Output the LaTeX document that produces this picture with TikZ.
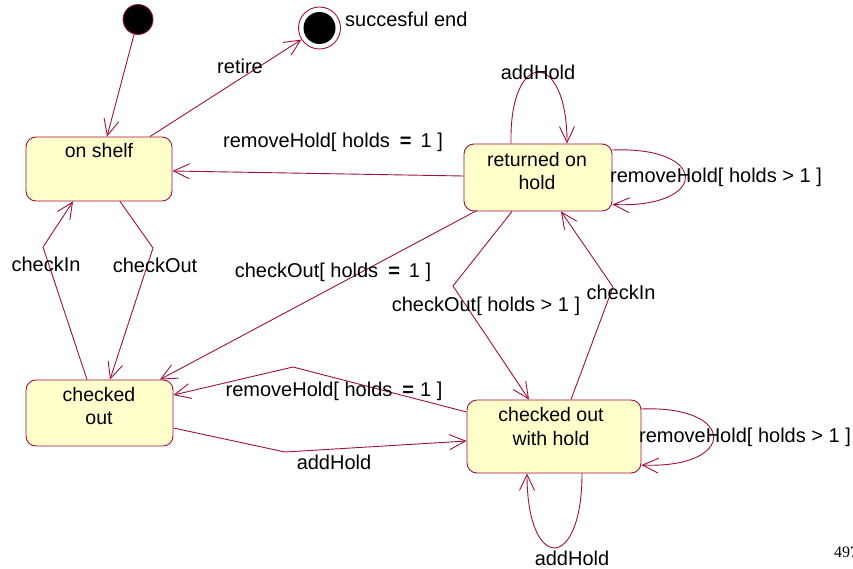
\documentclass[tikz,border=0pt]{standalone}
\usepackage{fontspec}
\setmainfont{Liberation Sans}
\newfontfamily\pagenofont{Liberation Serif}
\usetikzlibrary{arrows.meta,calc}

\definecolor{umlline}{HTML}{A0103F}
\definecolor{umlfill}{HTML}{FFFFCC}

\tikzset{
  state/.style={draw=umlline, fill=umlfill, line width=0.9pt, rounded corners=10pt,
                minimum width=#1, inner sep=0pt},
  statetext/.style={font=\fontsize{19.5}{23.5}\selectfont, align=center, inner sep=0pt},
  lbl/.style={font=\fontsize{20}{23}\selectfont, inner sep=0pt},
  trans/.style={draw=umlline, line width=0.9pt,
                -{Straight Barb[length=16pt,width=15pt,line width=0.9pt]}},
  startdot/.style={circle, draw=umlline, fill=black, line width=0.8pt, minimum size=30pt, inner sep=0pt},
}

\begin{document}
\begin{tikzpicture}[x=1pt,y=-1pt]
\clip (0,0) rectangle (853,569);
\fill[white] (0,0) rectangle (853,569);

% states
\node[startdot] (init) at (138,19.5) {};
\node[circle, draw=umlline, line width=0.9pt, minimum size=42pt, inner sep=0pt] (fin) at (319.5,28) {};
\node[circle, fill=black, minimum size=32pt, inner sep=0pt] (findot) at (fin.center) {};
\node[lbl, anchor=west] (finT) at (345,19) {succesful end};

\node[state=146pt, minimum height=64pt] (shelf) at (99,169) {};
\node[statetext] (shelfT) at (99,151) {on shelf};

\node[state=148pt, minimum height=67pt] (ret) at (538,177.5) {};
\node[statetext] (retT) at (537,171) {returned on\\hold};

\node[state=147pt, minimum height=66pt] (co) at (99.5,413) {};
\node[statetext] (coT) at (99,406) {checked\\out};

\node[state=174pt, minimum height=73pt] (cowh) at (554,436.5) {};
\node[statetext] (cowhT) at (551,426.5) {checked out\\with hold};

% bend points
\coordinate (b6) at (43,247);
\coordinate (b10) at (153,248);
\coordinate (b7) at (453,286);
\coordinate (b8) at (613,287);
\coordinate (b11) at (293,367);
\coordinate (b12) at (285,452);

% transitions
\draw[trans] (init) -- ($(shelf.north)+(8,0)$);
\draw[trans] ($(shelf.north)+(51,0)$) -- (fin);
\draw[trans] ($(ret.west)+(0,-1.5)$) -- ($(shelf.east)+(0,2)$);

\draw[trans] ($(ret.north)+(-27,0)$) .. controls +(-2,-95) and +(0,-95) .. ($(ret.north)+(29,0)$);
\draw[trans] ($(ret.east)+(0,-27.5)$) .. controls +(97,-4) and +(97,4) .. ($(ret.east)+(0,27)$);

\draw[trans] ($(ret.south)+(-61,-1)$) -- ($(co.north)+(60.5,0)$);
\draw[trans] ($(ret.south)+(-26,0)$) -- (b7) -- ($(cowh.north)+(-25,0)$);
\draw[trans] ($(cowh.north)+(17,0)$) -- (b8) -- ($(ret.south)+(23,0)$);

\draw[trans] ($(co.north)+(-12.5,0)$) -- (b6) -- ($(shelf.south)+(-26,0)$);
\draw[trans] ($(shelf.south)+(21,0)$) -- (b10) -- ($(co.north)+(10.5,0)$);

\draw[trans] ($(cowh.west)+(0,-24.5)$) -- (b11) -- ($(co.east)+(0,-18)$);
\draw[trans] ($(co.east)+(0,15)$) -- (b12) -- ($(cowh.west)+(0,4.5)$);

\draw[trans] ($(cowh.east)+(0,-27.5)$) .. controls +(96,-4) and +(96,4) .. ($(cowh.east)+(0,28.5)$);
\draw[trans] ($(cowh.south)+(28,0)$) .. controls +(0,99) and +(0,99) .. ($(cowh.south)+(-27,0)$);

% transition labels
\node[lbl] (l2) at (240,66) {retire};
\node[lbl] (l3) at (333,142) {removeHold[ holds\hspace{0.5em}\textbf{=}\hspace{0.45em}1 ]};
\node[lbl] (l4) at (538,72) {addHold};
\node[lbl] (l5) at (716,177) {removeHold[ holds > 1 ]};
\node[lbl] (l6) at (333,272) {checkOut[ holds\hspace{0.5em}\textbf{=}\hspace{0.45em}1 ]};
\node[lbl] (l7) at (486,306) {checkOut[ holds > 1 ]};
\node[lbl] (l8) at (621,292) {checkIn};
\node[lbl] (l9) at (46,264) {checkIn};
\node[lbl] (l10) at (155,265) {checkOut};
\node[lbl] (l11) at (334,391) {removeHold[ holds\hspace{0.5em}\textbf{=}\hspace{0.3em}1 ]};
\node[lbl] (l12) at (334,462) {addHold};
\node[lbl] (l13) at (745,437) {removeHold[ holds > 1 ]};
\node[lbl] (l14) at (572,558) {addHold};

% page number, running off the right edge
\node[font=\pagenofont\fontsize{16}{18}\selectfont, anchor=west, inner sep=0pt] (pg) at (834,552) {497};
\end{tikzpicture}
\end{document}
